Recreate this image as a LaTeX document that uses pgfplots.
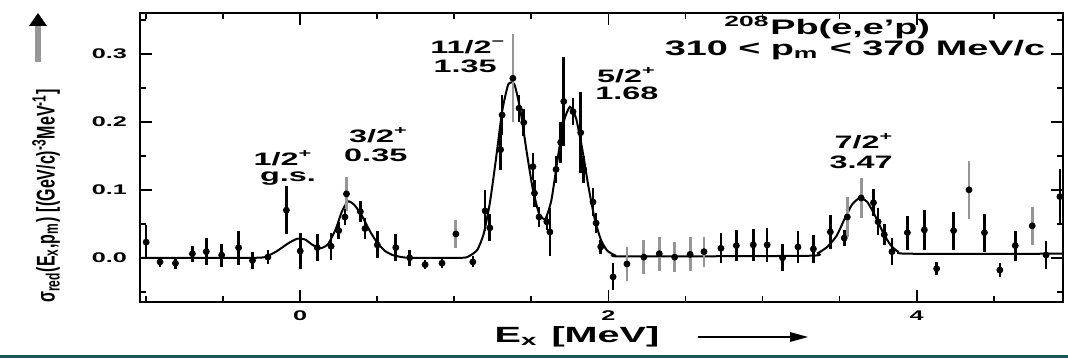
\documentclass[border=0pt]{standalone}
\usepackage{fontspec}
\setmainfont{Liberation Sans}
\usepackage{graphicx}
\usepackage{pgfplots}
\pgfplotsset{compat=1.18}

\definecolor{greybar}{RGB}{150,150,150}
\definecolor{footrule}{RGB}{28,88,86}

% horizontally widened text, as in the printed spectrum
\newcommand{\wide}[1]{\scalebox{1.8}[1]{#1}}

% reduced cross section: points with dark error bars
\pgfplotstableread{
x y e
-1.00 0.023 0.025
-0.91 -0.006 0.007
-0.81 -0.008 0.008
-0.70 0.006 0.012
-0.61 0.009 0.020
-0.51 0.004 0.017
-0.40 0.015 0.025
-0.31 -0.004 0.012
-0.21 0.001 0.010
-0.09 0.070 0.035
0.00 0.010 0.027
0.11 0.015 0.020
0.20 0.017 0.020
0.25 0.040 0.012
0.29 0.060 0.012
0.39 0.068 0.015
0.42 0.043 0.015
0.50 0.019 0.020
0.62 0.015 0.020
0.71 0.000 0.012
0.81 -0.010 0.007
0.92 -0.008 0.007
1.12 -0.006 0.008
1.20 0.069 0.030
1.23 0.044 0.020
1.30 0.159 0.030
1.31 0.210 0.030
1.42 0.220 0.020
1.45 0.199 0.020
1.51 0.134 0.020
1.52 0.095 0.020
1.55 0.060 0.015
1.60 0.053 0.012
1.62 0.038 0.035
1.66 0.130 0.020
1.69 0.170 0.030
1.71 0.230 0.065
1.77 0.215 0.020
1.82 0.184 0.060
1.84 0.130 0.020
1.90 0.082 0.020
1.92 0.051 0.015
1.95 0.016 0.010
2.03 -0.028 0.020
2.73 0.014 0.022
2.83 0.018 0.023
2.94 0.019 0.024
3.03 0.019 0.025
3.13 0.000 0.020
3.23 0.016 0.023
3.33 0.013 0.020
3.44 0.038 0.025
3.53 0.029 0.012
3.72 0.081 0.020
3.75 0.053 0.020
3.79 0.034 0.015
3.84 0.009 0.020
3.94 0.037 0.025
4.05 0.041 0.030
4.13 -0.016 0.010
4.24 0.040 0.028
4.44 0.037 0.028
4.54 -0.018 0.010
4.64 0.018 0.022
4.84 0.004 0.020
4.93 0.090 0.040
}\darkpts

% points whose error bars are printed in grey
\pgfplotstableread{
x y e
0.30 0.094 0.025
1.01 0.035 0.020
1.38 0.264 0.065
2.12 -0.009 0.025
2.23 0.001 0.025
2.33 0.006 0.025
2.43 0.001 0.022
2.53 0.005 0.025
2.62 0.009 0.022
3.55 0.060 0.030
3.64 0.088 0.030
4.34 0.100 0.043
4.75 0.047 0.028
}\greypts

\begin{document}
\begin{tikzpicture}
% page frame
\path (0pt,0pt) rectangle (534pt,179pt);
\begin{axis}[
  at={(70pt,28pt)}, anchor=south west,
  scale only axis, width=461.5pt, height=144.5pt,
  xmin=-1.04, xmax=4.95, ymin=-0.065, ymax=0.36,
  axis line style={line width=1.1pt},
  every tick/.style={black, line width=0.9pt},
  major tick length=6pt, minor tick length=3pt,
  tick align=inside,
  xtick={0,2,4},
  xticklabels={\wide{0},\wide{2},\wide{4}},
  minor xtick={-1,-0.5,0.5,1,1.5,2.5,3,3.5,4.5},
  ytick={0,0.1,0.2,0.3},
  yticklabels={\wide{0.0},\wide{0.1},\wide{0.2},\wide{0.3}},
  minor ytick={-0.05,0.05,0.15,0.25,0.35},
  ticklabel style={font=\bfseries\fontsize{7}{8}\selectfont},
  yticklabel style={xshift=-3pt},
  xticklabel style={yshift=-1pt},
  clip=false,
]
% fitted spectrum
\addplot[black, line width=1pt, smooth, tension=0.35] coordinates {
(-1.04,0) (-0.30,0) (-0.22,0.002) (-0.15,0.010) (-0.08,0.021) (-0.02,0.028)
(0.03,0.027) (0.08,0.019) (0.13,0.014) (0.18,0.020) (0.23,0.042) (0.27,0.068)
(0.31,0.083) (0.35,0.078) (0.40,0.062) (0.45,0.040) (0.50,0.022) (0.55,0.010)
(0.60,0.004) (0.66,0.001) (0.72,0) (1.05,0) (1.10,0.003) (1.15,0.012)
(1.19,0.035) (1.23,0.080) (1.27,0.145) (1.31,0.215) (1.35,0.255) (1.39,0.255)
(1.43,0.215) (1.47,0.155) (1.51,0.100) (1.55,0.065) (1.59,0.057) (1.63,0.085)
(1.67,0.145) (1.71,0.200) (1.75,0.222) (1.79,0.205) (1.83,0.160) (1.87,0.105)
(1.91,0.058) (1.95,0.027) (1.99,0.011) (2.04,0.004) (2.10,0.002) (3.30,0.003)
(3.36,0.007) (3.42,0.016) (3.48,0.032) (3.53,0.056) (3.58,0.078) (3.63,0.088)
(3.68,0.082) (3.73,0.062) (3.78,0.038) (3.83,0.019) (3.88,0.009) (3.95,0.006)
(4.95,0.006)};
% data with grey error bars
\addplot[only marks, mark=*, mark size=1.5pt, black,
  error bars/.cd, y dir=both, y explicit,
  error bar style={line width=1.4pt, greybar}, error mark=none]
  table[x=x, y=y, y error=e]{\greypts};
% data with dark error bars
\addplot[only marks, mark=*, mark size=1.5pt, black,
  error bars/.cd, y dir=both, y explicit,
  error bar style={line width=1.3pt, black}, error mark=none]
  table[x=x, y=y, y error=e]{\darkpts};

% level labels
\begin{scope}[every node/.style={font=\bfseries\fontsize{9}{10}\selectfont, inner sep=0pt}]
\node at (axis cs:-0.11,0.147) {\wide{1/2\textsuperscript{+}}};
\node at (axis cs:-0.08,0.116) {\wide{g.s.}};
\node at (axis cs:0.51,0.180) {\wide{3/2\textsuperscript{+}}};
\node at (axis cs:0.49,0.151) {\wide{0.35}};
\node at (axis cs:1.09,0.310) {\wide{11/2\textsuperscript{−}}};
\node at (axis cs:1.07,0.282) {\wide{1.35}};
\node at (axis cs:2.12,0.269) {\wide{5/2\textsuperscript{+}}};
\node at (axis cs:2.12,0.242) {\wide{1.68}};
\node at (axis cs:3.66,0.172) {\wide{7/2\textsuperscript{+}}};
\node at (axis cs:3.64,0.140) {\wide{3.47}};
\end{scope}
\node[font=\bfseries\fontsize{10.5}{12}\selectfont, inner sep=0pt]
  at (axis cs:3.42,0.338) {\wide{\textsuperscript{208}Pb(e,e'p)}};
\node[font=\bfseries\fontsize{10.5}{12}\selectfont, inner sep=0pt]
  at (axis cs:3.60,0.306) {\wide{310 < p\textsubscript{m} < 370 MeV/c}};
\end{axis}

% y axis title with arrow
\node[rotate=90, inner sep=0pt, font=\bfseries\fontsize{8}{9}\selectfont] at (23pt,81pt)
  {\scalebox{1}[1.6]{σ\textsubscript{red}(E\textsubscript{x},p\textsubscript{m})\,\,[(GeV/c)\textsuperscript{-3}MeV\textsuperscript{-1}]}};
\draw[greybar, line width=3pt] (19pt,148pt) -- (19pt,167pt);
\fill[black] (19pt,172.5pt) -- (14.5pt,166pt) -- (23.5pt,166pt) -- cycle;

% x axis title with arrow
\node[inner sep=0pt, font=\bfseries\fontsize{11}{12}\selectfont] at (288.5pt,10.5pt)
  {\wide{E\textsubscript{x}\,\,[MeV]}};
\draw[black, line width=1pt] (349pt,10.5pt) -- (396pt,10.5pt);
\fill[black] (404pt,10.5pt) -- (395pt,13pt) -- (395pt,8pt) -- cycle;

% footer rule
\fill[footrule] (0pt,0pt) rectangle (534pt,1.6pt);
\end{tikzpicture}
\end{document}
